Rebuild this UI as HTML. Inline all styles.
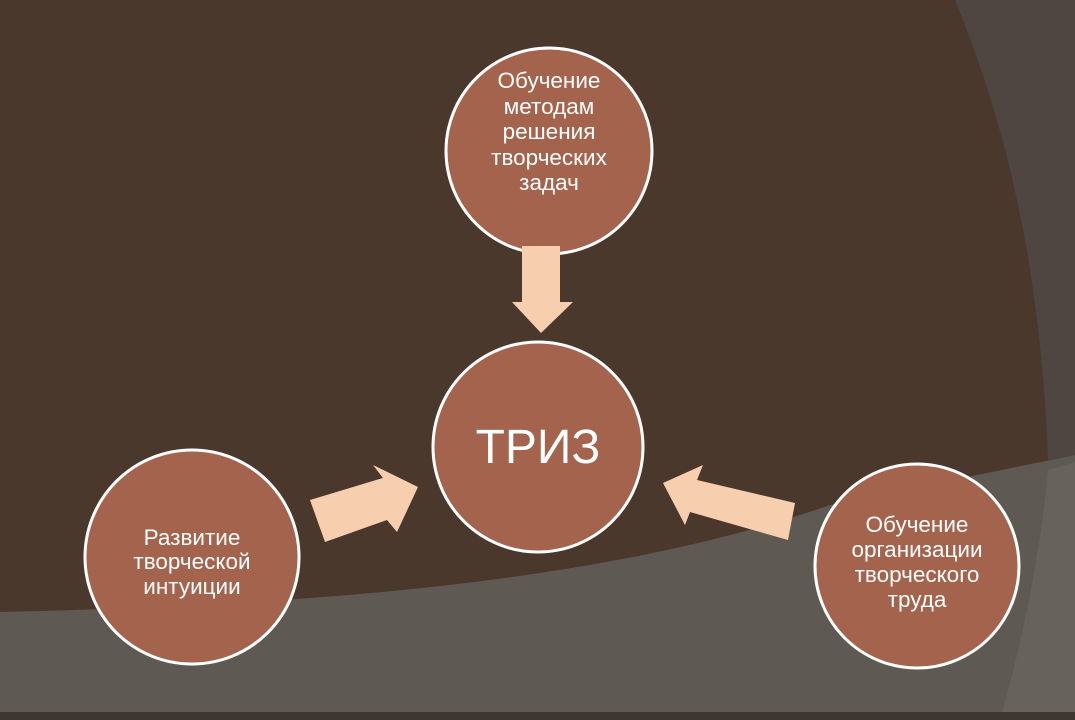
<!DOCTYPE html>
<html><head><meta charset="utf-8"><style>
html,body{margin:0;padding:0;width:1075px;height:720px;overflow:hidden;background:#4a382d}
svg{display:block}
text{font-family:"Liberation Sans",sans-serif;fill:#fff}
</style></head><body>
<svg width="1075" height="720" viewBox="0 0 1075 720">
<rect width="1075" height="720" fill="#4a382d"/>
<path d="M955,0 C1000,110 1040,250 1048,460 L1075,455 L1075,0 Z" fill="#4f4641"/>
<path d="M0,612 C300,605 600,585 830,505 L1075,455 L1075,720 L0,720 Z" fill="#5f5953"/>
<path d="M1000,720 C1020,650 1040,560 1048,470 L1075,462 L1075,720 Z" fill="#67625c"/>
<rect x="0" y="712" width="1075" height="8" fill="#3d3632"/>
<g fill="#a4634d" stroke="#fff" stroke-width="3">
<circle cx="549" cy="151" r="103"/>
<circle cx="538" cy="447" r="105"/>
<circle cx="192" cy="557" r="107"/>
<circle cx="917" cy="566" r="102"/>
</g>
<g fill="#f8cfae">
<polygon points="522,246 560,246 560,302 573,302 541,333 512,302 522,302"/>
<polygon points="310,500 383,478 373,465 418,487 397,532 387,520 325,542"/>
<polygon points="795,503 697,480 703,465 663,483 685,525 690,512 788,540"/>
</g>
<text x="538" y="463" font-size="48" text-anchor="middle">ТРИЗ</text>
<g font-size="22.5" text-anchor="middle">
<text x="549" y="88">Обучение</text>
<text x="549" y="114">методам</text>
<text x="549" y="139">решения</text>
<text x="549" y="165">творческих</text>
<text x="549" y="190">задач</text>
<text x="192" y="545">Развитие</text>
<text x="192" y="569">творческой</text>
<text x="192" y="594">интуиции</text>
<text x="917" y="532">Обучение</text>
<text x="917" y="557">организации</text>
<text x="917" y="582">творческого</text>
<text x="917" y="607">труда</text>
</g>
</svg>
</body></html>
